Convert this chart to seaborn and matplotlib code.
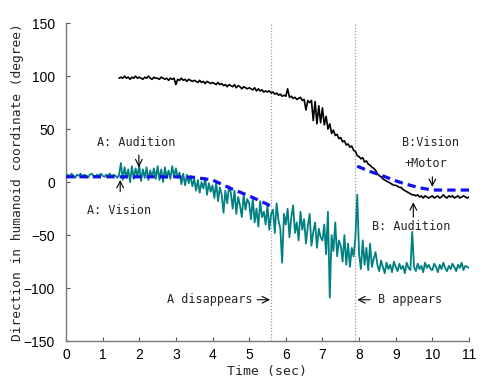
import numpy as np
import pandas as pd
import matplotlib
matplotlib.use("Agg")
import matplotlib.pyplot as plt
import seaborn as sns

# ---------------- data ----------------
# teal: sound-source direction estimate, sampled every 0.05 s from 0 to 11 s
teal_t0, teal_step = 0.0, 0.05
teal_deg = [
    6, 7, 5, 8, 6, 4, 7, 6, 8, 5, 7, 6, 4, 7, 8, 6, 5, 7, 6, 8,          # 0.00-0.95
    6, 5, 7, 6, 8, 5, 7, 6, 4, 7,                                      # 1.00
    18, 2, 14, 4, 12, 0, 15, 3, 13, 5,                                 # 1.50
    16, 1, 12, 4, 14, 2, 11, 5, 13, 3,                                 # 2.00
    15, 2, 12, 0, 14, 4, 11, 3, 15, 5,                                 # 2.50
    13, 4, 9, -2, 8, -3, 7, -1, 6, -4,                                 # 3.00
    3, -8, 2, -10, 0, -6, 4, -12, -1, -9,                              # 3.50
    -3, -15, 0, -18, -5, -12, -29, -8, -20, -4,                        # 4.00
    -10, -25, -8, -30, -14, -22, -33, -12, -26, -16,                   # 4.50
    -20, -35, -15, -38, -25, -42, -18, -33, -28, -40,                  # 5.00
    -22, -45, -30, -26, -48, -20, -36, -44, -76, -30,                  # 5.50
    -40, -25, -52, -33, -22, -48, -38, -55, -28, -45,                  # 6.00
    -35, -58, -42, -30, -60, -47, -38, -62, -44, -52,                  # 6.50
    -55, -40, -68, -28, -109, -50, -65, -38, -70, -55,                 # 7.00
    -60, -75, -50, -78, -58, -80, -62, -70, -52, -12,                  # 7.50
    -68, -82, -55, -78, -62, -83, -58, -80, -72, -66,                  # 8.00
    -78, -84, -74, -80, -86, -76, -82, -78, -85, -75,                  # 8.50
    -80, -84, -77, -82, -79, -86, -76, -81, -83, -47,                  # 9.00
    -80, -84, -77, -82, -79, -85, -76, -81, -78, -82,                  # 9.50
    -83, -77, -80, -85, -78, -82, -76, -81, -84, -79,                  # 10.00
    -82, -77, -80, -84, -78, -81, -76, -83, -79, -80,                  # 10.50
    -81,                                                               # 11.00
]

# black: direction estimate for the second source, every 0.05 s from 1.45 to 11 s
black_t0, black_step = 1.45, 0.05
black_deg = [
    98,
    99, 98, 100, 98, 99, 97, 99, 98, 100, 98,                          # 1.50
    99, 98, 97, 99, 98, 100, 98, 97, 99, 98,                           # 2.00
    98, 97, 99, 98, 97, 98, 96, 98, 97, 98,                            # 2.50
    92, 97, 96, 98, 96, 97, 95, 97, 96, 95,                            # 3.00
    96, 95, 94, 96, 94, 95, 93, 95, 94, 93,                            # 3.50
    94, 93, 92, 94, 92, 93, 91, 92, 90, 92,                            # 4.00
    91, 90, 92, 89, 91, 90, 88, 90, 89, 88,                            # 4.50
    89, 88, 87, 89, 86, 88, 86, 87, 85, 86,                            # 5.00
    85, 86, 84, 85, 83, 84, 82, 83, 81, 82,                            # 5.50
    81, 88, 80, 81, 79, 80, 78, 79, 80, 77,                            # 6.00
    78, 68, 77, 75, 77, 58, 76, 55, 72, 56,                            # 6.50
    70, 54, 62, 50, 55, 46, 49, 44, 45, 41,                            # 7.00
    42, 38, 39, 35, 36, 33, 34, 30, 29, 25,                            # 7.50
    24, 22, 23, 19, 20, 17, 16, 14, 13, 11,                            # 8.00
    8, 6, 5, 3, 2, 1, 0, -1, -2, -3,                                   # 8.50
    -3, -4, -5, -5, -7, -8, -9, -10, -11, -12,                         # 9.00
    -12, -13, -12, -14, -13, -15, -13, -14, -15, -14,                  # 9.50
    -13, -15, -14, -13, -15, -14, -12, -14, -15, -13,                  # 10.00
    -14, -13, -15, -14, -13, -15, -14, -13, -14, -15,                  # 10.50
    -14,                                                               # 11.00
]

# blue dashed: reference direction, two segments
blue1_t = [0.0, 1.0, 2.0, 3.0, 3.5, 4.0, 4.5, 5.0, 5.5, 5.6]
blue1_deg = [5, 5, 5, 5, 4.5, 2, -6, -13, -21, -23]
blue2_t = [7.95, 8.3, 8.6, 9.1, 9.6, 10.0, 10.5, 11.0]
blue2_deg = [15, 10, 6.5, 0, -5, -7.5, -7.5, -7.5]

event_times = [5.6, 7.9]           # A disappears, B appears
x_ticks = list(range(0, 12))
y_ticks = [-150, -100, -50, 0, 50, 100, 150]

# ---------------- plot ----------------
sns.set_theme(style="ticks")
plt.rcParams["font.family"] = ["Liberation Sans", "DejaVu Sans"]

teal = pd.DataFrame({"t": teal_t0 + teal_step * np.arange(len(teal_deg)), "deg": teal_deg})
black = pd.DataFrame({"t": black_t0 + black_step * np.arange(len(black_deg)), "deg": black_deg})
blue1 = pd.DataFrame({"t": blue1_t, "deg": blue1_deg})
blue2 = pd.DataFrame({"t": blue2_t, "deg": blue2_deg})

fig = plt.figure(figsize=(4.85, 3.85), dpi=100)
ax = fig.add_axes([0.136, 0.114, 0.831, 0.826])

for tt in event_times:
    ax.axvline(tt, color="#9a9a9a", lw=0.9, ls=(0, (1, 1.5)), zorder=1)

sns.lineplot(data=teal, x="t", y="deg", ax=ax, color="#008080", lw=1.3,
             estimator=None, sort=False, zorder=2)
sns.lineplot(data=black, x="t", y="deg", ax=ax, color="black", lw=1.2,
             estimator=None, sort=False, zorder=3)
for seg in (blue1, blue2):
    sns.lineplot(data=seg, x="t", y="deg", ax=ax, color="#1010f0", lw=2.3,
                 estimator=None, sort=False, zorder=4, linestyle=(0, (2.6, 1.6)))

ax.set_xlim(0, 11)
ax.set_ylim(-150, 150)
ax.set_xticks(x_ticks)
ax.set_yticks(y_ticks)
ax.tick_params(direction="in", length=3, width=0.8, color="#555555",
               labelsize=10, labelcolor="black")
ax.tick_params(axis="y", pad=8)
ax.tick_params(axis="x", pad=5)
sns.despine(ax=ax)
for s in ("left", "bottom"):
    ax.spines[s].set_color("#777777")
    ax.spines[s].set_linewidth(1.0)

mono = ["DejaVu Sans Mono"]
ax.set_xlabel("Time (sec)", family=mono, fontsize=9.5, labelpad=2)
ax.set_ylabel("Direction in humanoid coordinate (degree)", family=mono, fontsize=9.3)
ax.yaxis.set_label_coords(-0.104, 0.5)

afs = 8.5
arrow = dict(arrowstyle="->", color="black", lw=0.8, shrinkA=0, shrinkB=0)
ax.text(1.91, 37.7, "A: Audition", family=mono, fontsize=afs, ha="center", va="center")
ax.annotate("", xy=(1.99, 14), xytext=(1.99, 25.5), arrowprops=arrow)
ax.text(1.45, -27, "A: Vision", family=mono, fontsize=afs, ha="center", va="center")
ax.annotate("", xy=(1.48, 2), xytext=(1.48, -9), arrowprops=arrow)
ax.text(9.43, -42, "B: Audition", family=mono, fontsize=afs, ha="center", va="center")
ax.annotate("", xy=(9.48, -19), xytext=(9.48, -33), arrowprops=arrow)
ax.text(9.95, 37.7, "B:Vision", family=mono, fontsize=afs, ha="center", va="center")
ax.text(9.81, 18, "+Motor", family=mono, fontsize=afs, ha="center", va="center")
ax.annotate("", xy=(10.0, -4.5), xytext=(10.0, 5), arrowprops=arrow)

ax.text(5.08, -111, "A disappears", family=mono, fontsize=afs, ha="right", va="center")
ax.annotate("", xy=(5.57, -111), xytext=(5.22, -111), arrowprops=arrow)
ax.text(8.52, -111, "B appears", family=mono, fontsize=afs, ha="left", va="center")
ax.annotate("", xy=(7.95, -111), xytext=(8.3, -111), arrowprops=arrow)

fig.savefig("out.png", dpi=100)
